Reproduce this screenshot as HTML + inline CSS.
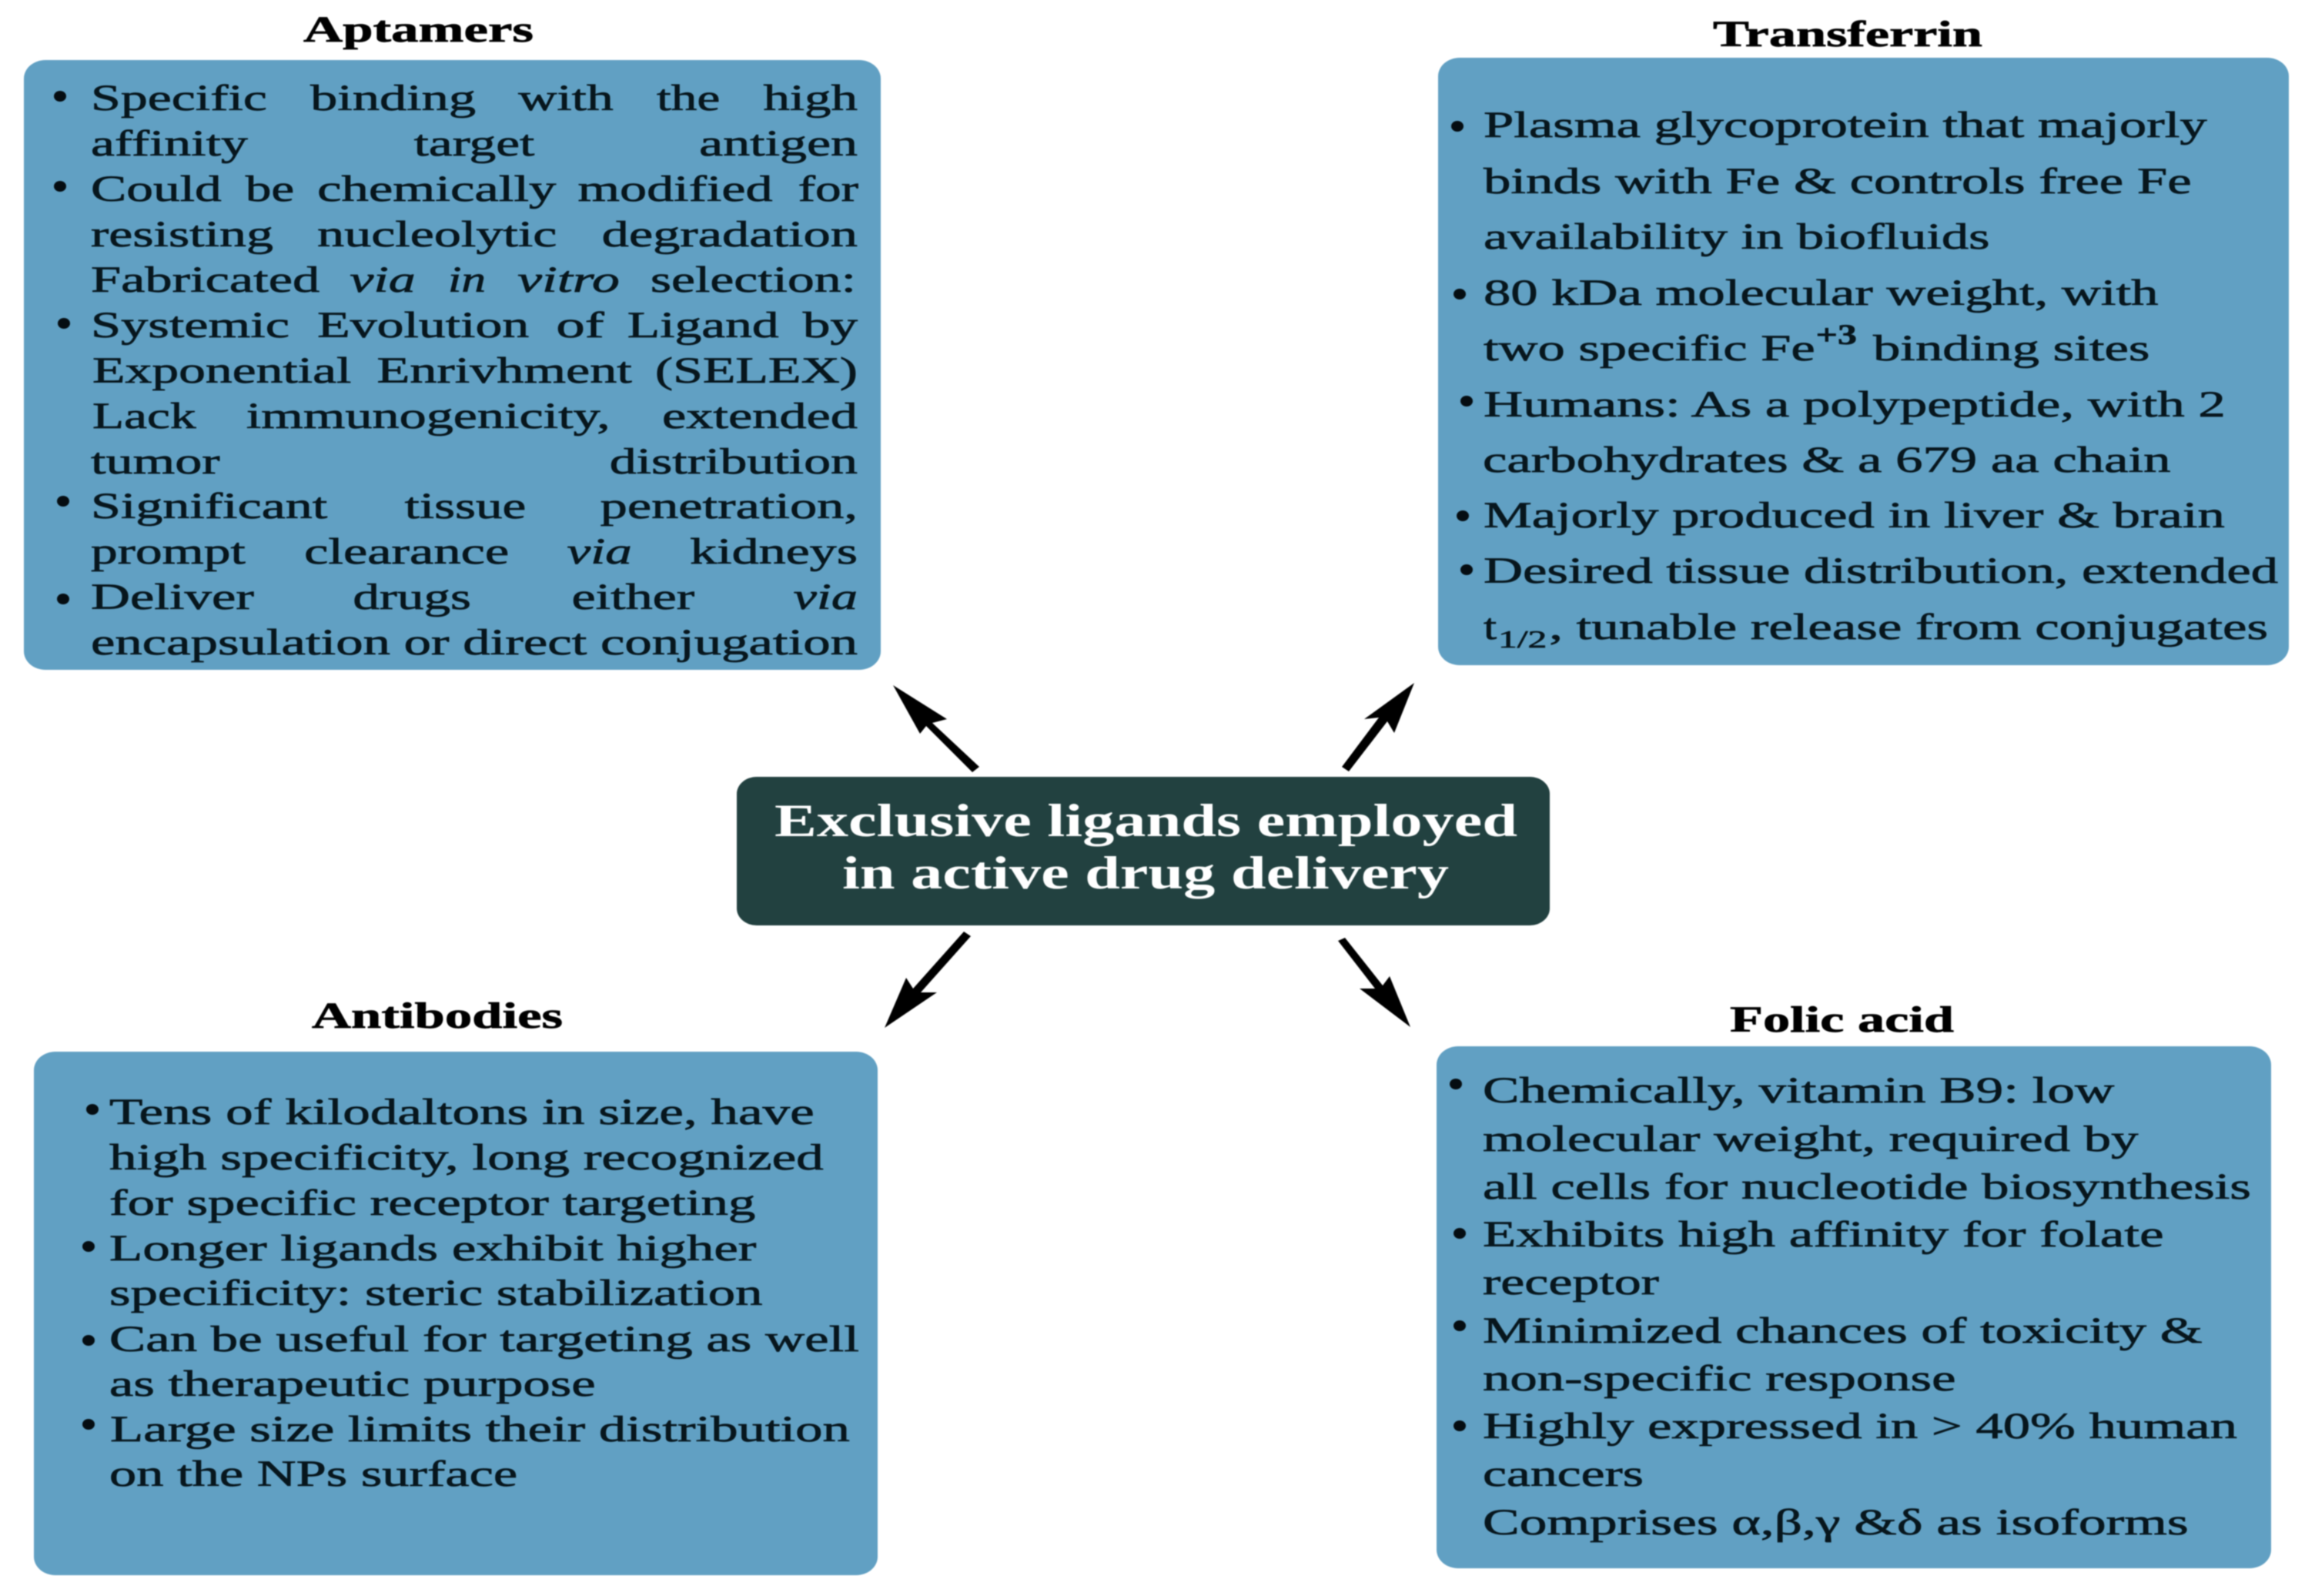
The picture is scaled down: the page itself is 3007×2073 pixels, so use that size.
<!DOCTYPE html>
<html><head><meta charset="utf-8">
<style>
html,body{margin:0;padding:0;background:#fff;width:3007px;height:2073px;overflow:hidden}
svg{display:block;filter:blur(.8px)}
text{font-family:"Liberation Serif","DejaVu Serif",serif;font-size:48px;fill:#07161d;stroke:#07161d;stroke-width:.7px}
.b{font-weight:bold;fill:#000;stroke:#000}
.i{font-style:italic}
.c{font-weight:bold;font-size:60px;fill:#fff;stroke:none}
.s{font-size:32px}
.u{font-size:37px;font-weight:bold}
</style></head><body>
<svg xmlns="http://www.w3.org/2000/svg" width="3007" height="2073" viewBox="0 0 3007 2073">
<rect width="3007" height="2073" fill="#fff"/>
<g fill="#61a0c3">
<rect x="31" y="78" width="1113" height="792" rx="28" ry="24"/>
<rect x="1868" y="75" width="1105" height="789" rx="28" ry="24"/>
<rect x="44" y="1366" width="1096" height="680" rx="28" ry="24"/>
<rect x="1866" y="1359" width="1084" height="678" rx="28" ry="24"/>
</g>
<rect x="957" y="1009" width="1056" height="193" rx="26" ry="22" fill="#224140"/>

<text class="b" x="394" y="54" textLength="299" lengthAdjust="spacingAndGlyphs">Aptamers</text>
<text class="b" x="2225" y="60" textLength="350" lengthAdjust="spacingAndGlyphs">Transferrin</text>
<text class="b" x="405" y="1335" textLength="326" lengthAdjust="spacingAndGlyphs">Antibodies</text>
<text class="b" x="2247" y="1340" textLength="291" lengthAdjust="spacingAndGlyphs">Folic acid</text>

<text class="c" x="1006" y="1086" textLength="965" lengthAdjust="spacingAndGlyphs">Exclusive ligands employed</text>
<text class="c" x="1094" y="1154" textLength="788" lengthAdjust="spacingAndGlyphs">in active drug delivery</text>

<!-- arrows -->
<g fill="#000">
<polygon points="1160,890 1230,934 1211,939 1272,996 1263,1003 1203,943 1195,953"/>
<polygon points="1837,887 1811,952 1802,937 1752,1002 1743,996 1791,932 1772,934"/>
<polygon points="1149,1335 1177,1270 1186,1284 1252,1210 1261,1216 1196,1289 1217,1289"/>
<polygon points="1832,1334 1766,1284 1786,1284 1738,1222 1747,1218 1796,1280 1805,1268"/>
</g>

<g fill="#050d12">
<ellipse cx="78" cy="125" rx="8" ry="7"/><ellipse cx="78" cy="242" rx="8" ry="7"/><ellipse cx="83" cy="420" rx="8" ry="7"/><ellipse cx="82" cy="651" rx="8" ry="7"/><ellipse cx="82" cy="778" rx="8" ry="7"/>
<ellipse cx="1893" cy="164" rx="8" ry="7"/><ellipse cx="1896" cy="382" rx="8" ry="7"/><ellipse cx="1905" cy="521" rx="8" ry="7"/><ellipse cx="1900" cy="670" rx="8" ry="7"/><ellipse cx="1905" cy="740" rx="8" ry="7"/>
<ellipse cx="120" cy="1441" rx="8" ry="7"/><ellipse cx="115" cy="1619" rx="8" ry="7"/><ellipse cx="115" cy="1741" rx="8" ry="7"/><ellipse cx="115" cy="1850" rx="8" ry="7"/>
<ellipse cx="1891" cy="1408" rx="8" ry="7"/><ellipse cx="1896" cy="1602" rx="8" ry="7"/><ellipse cx="1896" cy="1722" rx="8" ry="7"/><ellipse cx="1896" cy="1852" rx="8" ry="7"/>
</g>

<!-- Aptamers text -->
<g transform="translate(616 0) scale(1.004 1) translate(-616 0)">
<text x="120" y="143" textLength="228" lengthAdjust="spacingAndGlyphs">Specific</text><text x="404" y="143" textLength="214" lengthAdjust="spacingAndGlyphs">binding</text><text x="673" y="143" textLength="123" lengthAdjust="spacingAndGlyphs">with</text><text x="852" y="143" textLength="82" lengthAdjust="spacingAndGlyphs">the</text><text x="990" y="143" textLength="122" lengthAdjust="spacingAndGlyphs">high</text>
<text x="120" y="202" textLength="203" lengthAdjust="spacingAndGlyphs">affinity</text><text x="538" y="202" textLength="156" lengthAdjust="spacingAndGlyphs">target</text><text x="907" y="202" textLength="205" lengthAdjust="spacingAndGlyphs">antigen</text>
<text x="120" y="261" textLength="169" lengthAdjust="spacingAndGlyphs">Could</text><text x="320" y="261" textLength="63" lengthAdjust="spacingAndGlyphs">be</text><text x="413" y="261" textLength="309" lengthAdjust="spacingAndGlyphs">chemically</text><text x="750" y="261" textLength="252" lengthAdjust="spacingAndGlyphs">modified</text><text x="1035" y="261" textLength="78" lengthAdjust="spacingAndGlyphs">for</text>
<text x="120" y="320" textLength="236" lengthAdjust="spacingAndGlyphs">resisting</text><text x="413" y="320" textLength="310" lengthAdjust="spacingAndGlyphs">nucleolytic</text><text x="781" y="320" textLength="331" lengthAdjust="spacingAndGlyphs">degradation</text>
<text x="120" y="379" textLength="296" lengthAdjust="spacingAndGlyphs">Fabricated</text><text class="i" x="455" y="379" textLength="85" lengthAdjust="spacingAndGlyphs">via</text><text class="i" x="582" y="379" textLength="49" lengthAdjust="spacingAndGlyphs">in</text><text class="i" x="672" y="379" textLength="132" lengthAdjust="spacingAndGlyphs">vitro</text><text x="844" y="379" textLength="266" lengthAdjust="spacingAndGlyphs">selection:</text>
<text x="120" y="438" textLength="257" lengthAdjust="spacingAndGlyphs">Systemic</text><text x="413" y="438" textLength="274" lengthAdjust="spacingAndGlyphs">Evolution</text><text x="722" y="438" textLength="62" lengthAdjust="spacingAndGlyphs">of</text><text x="814" y="438" textLength="196" lengthAdjust="spacingAndGlyphs">Ligand</text><text x="1041" y="438" textLength="71" lengthAdjust="spacingAndGlyphs">by</text>
<text x="122" y="497" textLength="335" lengthAdjust="spacingAndGlyphs">Exponential</text><text x="490" y="497" textLength="330" lengthAdjust="spacingAndGlyphs">Enrivhment</text><text x="850" y="497" textLength="262" lengthAdjust="spacingAndGlyphs">(SELEX)</text>
<text x="122" y="556" textLength="134" lengthAdjust="spacingAndGlyphs">Lack</text><text x="321" y="556" textLength="471" lengthAdjust="spacingAndGlyphs">immunogenicity,</text><text x="859" y="556" textLength="253" lengthAdjust="spacingAndGlyphs">extended</text>
<text x="120" y="615" textLength="167" lengthAdjust="spacingAndGlyphs">tumor</text><text x="791" y="615" textLength="321" lengthAdjust="spacingAndGlyphs">distribution</text>
<text x="120" y="673" textLength="306" lengthAdjust="spacingAndGlyphs">Significant</text><text x="526" y="673" textLength="157" lengthAdjust="spacingAndGlyphs">tissue</text><text x="779" y="673" textLength="333" lengthAdjust="spacingAndGlyphs">penetration,</text>
<text x="120" y="732" textLength="200" lengthAdjust="spacingAndGlyphs">prompt</text><text x="396" y="732" textLength="265" lengthAdjust="spacingAndGlyphs">clearance</text><text class="i" x="736" y="732" textLength="84" lengthAdjust="spacingAndGlyphs">via</text><text x="895" y="732" textLength="217" lengthAdjust="spacingAndGlyphs">kidneys</text>
<text x="120" y="791" textLength="211" lengthAdjust="spacingAndGlyphs">Deliver</text><text x="459" y="791" textLength="153" lengthAdjust="spacingAndGlyphs">drugs</text><text x="742" y="791" textLength="159" lengthAdjust="spacingAndGlyphs">either</text><text class="i" x="1029" y="791" textLength="83" lengthAdjust="spacingAndGlyphs">via</text>
<text x="120" y="850" textLength="992" lengthAdjust="spacingAndGlyphs">encapsulation or direct conjugation</text>
</g>

<!-- Transferrin text -->
<g transform="translate(2443 0) scale(1.004 1) translate(-2443 0)">
<text x="1929" y="178" textLength="936" lengthAdjust="spacingAndGlyphs">Plasma glycoprotein that majorly</text>
<text x="1929" y="251" textLength="916" lengthAdjust="spacingAndGlyphs">binds with Fe &amp; controls free Fe</text>
<text x="1929" y="323" textLength="655" lengthAdjust="spacingAndGlyphs">availability in biofluids</text>
<text x="1929" y="396" textLength="873" lengthAdjust="spacingAndGlyphs">80 kDa molecular weight, with</text>
<text x="1929" y="468" textLength="429" lengthAdjust="spacingAndGlyphs">two specific Fe</text><text class="u" x="2359" y="447" textLength="53" lengthAdjust="spacingAndGlyphs">+3</text><text x="2433" y="468" textLength="358" lengthAdjust="spacingAndGlyphs">binding sites</text>
<text x="1929" y="541" textLength="960" lengthAdjust="spacingAndGlyphs">Humans: As a polypeptide, with 2</text>
<text x="1928" y="613" textLength="890" lengthAdjust="spacingAndGlyphs">carbohydrates &amp; a 679 aa chain</text>
<text x="1929" y="685" textLength="959" lengthAdjust="spacingAndGlyphs">Majorly produced in liver &amp; brain</text>
<text x="1929" y="757" textLength="1028" lengthAdjust="spacingAndGlyphs">Desired tissue distribution, extended</text>
<text x="1929" y="830" textLength="17" lengthAdjust="spacingAndGlyphs">t</text><text class="s" x="1948" y="841" textLength="63" lengthAdjust="spacingAndGlyphs">1/2</text><text x="2014" y="830" textLength="930" lengthAdjust="spacingAndGlyphs">, tunable release from conjugates</text>
</g>

<!-- Antibodies text -->
<g transform="translate(628 0) scale(1.004 1) translate(-628 0)">
<text x="144" y="1460" textLength="912" lengthAdjust="spacingAndGlyphs">Tens of kilodaltons in size, have</text>
<text x="144" y="1519" textLength="924" lengthAdjust="spacingAndGlyphs">high specificity, long recognized</text>
<text x="144" y="1578" textLength="836" lengthAdjust="spacingAndGlyphs">for specific receptor targeting</text>
<text x="144" y="1637" textLength="837" lengthAdjust="spacingAndGlyphs">Longer ligands exhibit higher</text>
<text x="144" y="1695" textLength="845" lengthAdjust="spacingAndGlyphs">specificity: steric stabilization</text>
<text x="144" y="1755" textLength="970" lengthAdjust="spacingAndGlyphs">Can be useful for targeting as well</text>
<text x="144" y="1813" textLength="629" lengthAdjust="spacingAndGlyphs">as therapeutic purpose</text>
<text x="145" y="1872" textLength="957" lengthAdjust="spacingAndGlyphs">Large size limits their distribution</text>
<text x="144" y="1930" textLength="528" lengthAdjust="spacingAndGlyphs">on the NPs surface</text>
</g>

<!-- Folic acid text -->
<g transform="translate(2425 0) scale(1.004 1) translate(-2425 0)">
<text x="1928" y="1432" textLength="817" lengthAdjust="spacingAndGlyphs">Chemically, vitamin B9: low</text>
<text x="1928" y="1495" textLength="848" lengthAdjust="spacingAndGlyphs">molecular weight, required by</text>
<text x="1928" y="1557" textLength="994" lengthAdjust="spacingAndGlyphs">all cells for nucleotide biosynthesis</text>
<text x="1928" y="1619" textLength="881" lengthAdjust="spacingAndGlyphs">Exhibits high affinity for folate</text>
<text x="1928" y="1681" textLength="228" lengthAdjust="spacingAndGlyphs">receptor</text>
<text x="1928" y="1744" textLength="931" lengthAdjust="spacingAndGlyphs">Minimized chances of toxicity &amp;</text>
<text x="1928" y="1806" textLength="612" lengthAdjust="spacingAndGlyphs">non-specific response</text>
<text x="1928" y="1868" textLength="976" lengthAdjust="spacingAndGlyphs">Highly expressed in &gt; 40% human</text>
<text x="1928" y="1930" textLength="208" lengthAdjust="spacingAndGlyphs">cancers</text>
<text x="1928" y="1993" textLength="913" lengthAdjust="spacingAndGlyphs">Comprises α,β,γ &amp;δ as isoforms</text>
</g>
</svg>
</body></html>
